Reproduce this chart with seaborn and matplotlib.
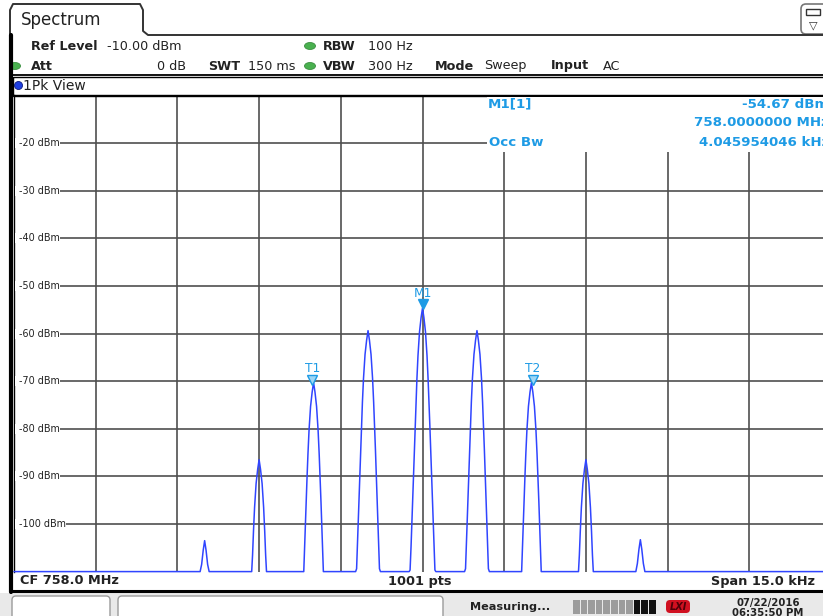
import matplotlib
matplotlib.use("Agg")
import matplotlib.pyplot as plt
import seaborn as sns
import numpy as np
import pandas as pd
from matplotlib.patches import Rectangle, FancyBboxPatch, Ellipse, Circle
from matplotlib import transforms

sns.set_style("white")
plt.rcParams['font.family'] = ['DejaVu Sans']

# analyzer settings / scale
center_mhz = 758.0
span_khz = 15.0
ref_level_dbm = -10.0
bottom_dbm = -110.0
y_ticks = [-20, -30, -40, -50, -60, -70, -80, -90, -100]
occ_bw_khz = 4.045954046

# spectral lines (offset from CF in kHz, peak level in dBm)
peak_offset_khz = [-4, -3, -2, -1, 0, 1, 2, 3, 4]
peak_level_dbm = [-103.5, -86.5, -70.3, -59.4, -54.67, -59.4, -70.3, -86.5, -103.3]

# shape of one line: drop below peak vs half width
drop_db = [0, 2, 5, 10, 15, 20, 25, 30, 35, 40, 45, 50, 55, 60]
half_width_khz = [0, 0.026, 0.055, 0.083, 0.103, 0.12, 0.136, 0.151, 0.166,
                  0.18, 0.195, 0.21, 0.228, 0.245]

# markers
marker_names = ['M1', 'T1', 'T2']
marker_khz = [0.0, -2.023, 2.023]
marker_dbm = [-54.67, -70.6, -70.6]

marker_blue = '#1E9BE5'
trace_blue = '#3045FF'
W, H = 823, 616


def build_trace():
    drop = np.array(drop_db)
    hw = np.array(half_width_khz)
    f = [-span_khz / 2]
    l = [bottom_dbm]
    for c, p in zip(peak_offset_khz, peak_level_dbm):
        f += list(c - hw[::-1]) + list(c + hw[1:])
        l += list(p - drop[::-1]) + list(p - drop[1:])
    f.append(span_khz / 2)
    l.append(bottom_dbm)
    # display clips the trace at the bottom of the screen
    l = np.maximum(np.array(l), bottom_dbm)
    return pd.DataFrame({'freq_khz': f, 'level_dbm': l})


trace = build_trace()

fig = plt.figure(figsize=(W / 100, H / 100), dpi=100)

# plot area (in pixels: x 14..831, -10 dBm at y=95.4, -110 dBm at y=571.6)
ax = fig.add_axes([14 / W, 1 - 571.6 / H, 817 / W, (571.6 - 95.4) / H])
ax.set_xlim(-span_khz / 2, span_khz / 2)
ax.set_ylim(bottom_dbm, ref_level_dbm)
ax.set_xticks(np.arange(-span_khz / 2, span_khz / 2 + 0.01, span_khz / 10))
ax.set_yticks(y_ticks)
ax.grid(True, color='#4f4f4f', lw=1.2)
ax.tick_params(length=0, labelleft=False, labelbottom=False)
for s in ['bottom', 'right']:
    ax.spines[s].set_visible(False)
ax.spines['top'].set_color('black')
ax.spines['top'].set_linewidth(1.0)
ax.spines['left'].set_color('black')
ax.spines['left'].set_linewidth(1.0)

sns.lineplot(data=trace, x='freq_khz', y='level_dbm', sort=False, estimator=None,
             color=trace_blue, lw=1.1, ax=ax, clip_on=False, zorder=3)
ax.set_xlabel('')
ax.set_ylabel('')

# marker symbols
lift = transforms.offset_copy(ax.transData, fig=fig, y=4, units='dots')
lift_txt = transforms.offset_copy(ax.transData, fig=fig, y=15, units='dots')
for name, fx, fy in zip(marker_names, marker_khz, marker_dbm):
    if name.startswith('M'):
        ax.plot([fx], [fy], marker='v', ms=7, color=marker_blue, mec=marker_blue,
                transform=lift, zorder=4, clip_on=False)
    else:
        ax.plot([fx], [fy], marker='v', ms=7, color='#9ED6F5', mec=marker_blue,
                mew=1.0, transform=lift, zorder=4, clip_on=False)
    ax.text(fx, fy, name, transform=lift_txt, ha='center', va='center',
            fontsize=8.8, color=marker_blue, zorder=4)

# decoration layer in pixel coordinates
d = fig.add_axes([0, 0, 1, 1], zorder=5)
d.set_xlim(0, W)
d.set_ylim(H, 0)
d.axis('off')
d.patch.set_alpha(0)

# tab + frame
tab_x = [10, 10, 13, 140, 143, 143, 148, 830]
tab_y = [591, 10, 4, 4, 10, 31, 35, 35]
d.plot(tab_x, tab_y, color='#333333', lw=1.4, solid_joinstyle='round')
d.plot([11.5, 11.5], [35, 592], color='black', lw=3)
d.text(21, 20, 'Spectrum', fontsize=12, va='center', color='#222222')

# top right icon
d.add_patch(FancyBboxPatch((801, 4), 30, 30, boxstyle='round,pad=0,rounding_size=5',
                           fc='white', ec='#777777', lw=1.2))
d.add_patch(Rectangle((806, 9), 14, 6, fc='white', ec='#333333', lw=1))
d.text(813, 25, '▽', fontsize=8, ha='center', va='center', color='#333333')

# header texts
hdr = dict(fontsize=9.2, va='center', color='#222222')
d.text(31, 46, 'Ref Level', fontweight='bold', **hdr)
d.text(107, 46, '-10.00 dBm', **hdr)
d.text(323, 46, 'RBW', fontweight='bold', **hdr)
d.text(368, 46, '100 Hz', **hdr)
d.text(31, 66, 'Att', fontweight='bold', **hdr)
d.text(186, 66, '0 dB', ha='right', **hdr)
d.text(208, 66, 'SWT', fontweight='bold', **hdr)
d.text(248, 66, '150 ms', **hdr)
d.text(323, 66, 'VBW', fontweight='bold', **hdr)
d.text(368, 66, '300 Hz', **hdr)
d.text(435, 66, 'Mode', fontweight='bold', **hdr)
d.text(484, 66, 'Sweep', **hdr)
d.text(551, 66, 'Input', fontweight='bold', **hdr)
d.text(603, 66, 'AC', **hdr)
for ex, ey in [(310, 46), (310, 66), (15, 66)]:
    d.add_patch(Ellipse((ex, ey), 11, 7, fc='#49B04F', ec='#3a8f3f', lw=0.6))
d.plot([12, 830], [75, 75], color='black', lw=1.3)

# 1Pk View strip
d.add_patch(Rectangle((13.5, 77), 820, 19, fc='none', ec='black', lw=1.0))
d.add_patch(Circle((18.5, 85.5), 4, fc='#1f3fe0', ec='#0a1a80', lw=0.6))
d.text(23, 85.5, '1Pk View', fontsize=10, va='center', color='#222222')

# level labels on the left
for v in y_ticks:
    py = 95.4 + (ref_level_dbm - v) * 4.7625
    d.add_patch(Rectangle((15, py - 5), 45 if v > -100 else 51, 10, fc='white', ec='none'))
    d.text(19, py, f'{v} dBm', fontsize=6.9, va='center', ha='left', color='#222222')

# marker info box
d.add_patch(Rectangle((487, 96.8), 345, 55, fc='white', ec='none'))
info = dict(fontsize=9.6, va='center', color=marker_blue, fontweight='bold')
d.text(488, 104, 'M1[1]', **info)
d.text(829, 104, f'{marker_dbm[0]:.2f} dBm', ha='right', **info)
d.text(829, 123, f'{center_mhz + marker_khz[0] / 1000:.7f} MHz', ha='right', **info)
d.text(489, 142, 'Occ Bw', **info)
d.text(829, 142, f'{occ_bw_khz:.9f} kHz', ha='right', **info)

# bottom bar
bot = dict(fontsize=9.3, va='center', fontweight='bold', color='#222222')
d.text(20, 581, f'CF {center_mhz:.1f} MHz', **bot)
d.text(420, 581, '1001 pts', ha='center', **bot)
d.text(815, 581, f'Span {span_khz:.1f} kHz', ha='right', **bot)
d.plot([10, 830], [591, 591], color='black', lw=2.2)

# status bar
d.add_patch(Rectangle((0, 592.5), W, 30, fc='#e9e9e9', ec='none', zorder=0))
d.add_patch(FancyBboxPatch((12, 596), 98, 26, boxstyle='round,pad=0,rounding_size=4',
                           fc='white', ec='#9a9a9a', lw=1))
d.add_patch(FancyBboxPatch((118, 596), 325, 26, boxstyle='round,pad=0,rounding_size=4',
                           fc='white', ec='#9a9a9a', lw=1))
d.text(470, 607, 'Measuring...', fontsize=8.1, fontweight='bold', va='center', color='#222222')
for i in range(11):
    d.add_patch(Rectangle((573 + i * 7.6, 600), 6.6, 14,
                          fc='#111111' if i >= 8 else '#9c9c9c', ec='none'))
d.add_patch(FancyBboxPatch((666, 600), 24, 13, boxstyle='round,pad=0,rounding_size=4',
                           fc='#d01020', ec='none'))
d.text(678, 606.5, 'LXI', fontsize=7, fontweight='bold', style='italic',
       ha='center', va='center', color='#500008')
d.text(768, 603, '07/22/2016', fontsize=7.3, fontweight='bold', ha='center', va='center',
       color='#222222')
d.text(768, 612.5, '06:35:50 PM', fontsize=7.3, fontweight='bold', ha='center', va='center',
       color='#222222')

fig.savefig('out.png', dpi=100)
